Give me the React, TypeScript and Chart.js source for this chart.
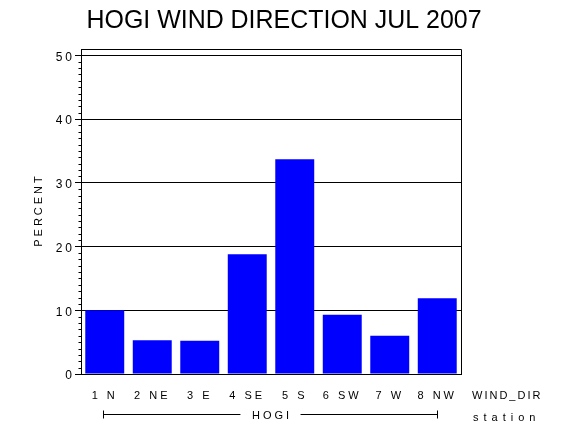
import { useEffect, useRef } from "react";
import { Chart, registerables } from "chart.js";

Chart.register(...registerables);

const directions = ["1 N", "2 NE", "3 E", "4 SE", "5 S", "6 SW", "7 W", "8 NW"];
const percents = [10.0, 5.3, 5.2, 18.8, 33.7, 9.3, 6.0, 11.9];
const yMax = 51;
const yStep = 10;
const titleText = "HOGI WIND DIRECTION JUL 2007";
const yTitle = "PERCENT";
const xTitle = "WIND_DIR";
const groupLabel = "HOGI";
const groupTitle = "station";

const FONT = "'Liberation Sans', Arial, sans-serif";

const extras = {
  id: "extras",
  beforeDraw(chart: any) {
    chart.ctx.letterSpacing = "3px";
  },
  afterDraw(chart: any) {
    const { ctx, chartArea: a, scales } = chart;
    const y = scales.y;
    const x = scales.x;
    ctx.save();
    ctx.strokeStyle = "#000";
    ctx.fillStyle = "#000";
    ctx.lineWidth = 1;

    // plot frame
    const l = Math.round(a.left) + 0.5;
    const t = Math.round(a.top) + 0.5;
    const r = Math.round(a.right) + 0.5;
    const b = Math.round(a.bottom) + 0.5;
    ctx.beginPath();
    ctx.moveTo(l, b);
    ctx.lineTo(l, t);
    ctx.lineTo(r, t);
    ctx.lineTo(r, b);
    ctx.stroke();

    // minor ticks on the y axis
    ctx.beginPath();
    for (let v = 1; v < 50; v++) {
      if (v % yStep === 0) continue;
      const py = Math.round(y.getPixelForValue(v)) + 0.5;
      ctx.moveTo(l - 3, py);
      ctx.lineTo(l, py);
    }
    ctx.stroke();

    // title
    ctx.letterSpacing = "0px";
    ctx.font = `25px ${FONT}`;
    ctx.textAlign = "center";
    ctx.textBaseline = "middle";
    ctx.fillText(titleText, 284, 21, 395);

    ctx.letterSpacing = "3px";
    ctx.font = `11px ${FONT}`;

    // y title
    ctx.save();
    ctx.translate(39, 210);
    ctx.rotate(-Math.PI / 2);
    ctx.textAlign = "center";
    ctx.fillText(yTitle, 0, 0);
    ctx.restore();

    // x title
    ctx.textAlign = "left";
    ctx.letterSpacing = "2px";
    ctx.fillText(xTitle, 472, 396);
    ctx.letterSpacing = "3px";

    // station group line
    const gx0 = Math.round(x.getPixelForValue(0)) - 1.5;
    const gx1 = Math.round(x.getPixelForValue(directions.length - 1)) + 0.5;
    const gy = 414.5;
    const cx = (gx0 + gx1) / 2;
    const tw = ctx.measureText(groupLabel).width;
    ctx.beginPath();
    ctx.moveTo(gx0, gy - 4);
    ctx.lineTo(gx0, gy + 4);
    ctx.moveTo(gx0, gy);
    ctx.lineTo(cx - tw / 2 - 10, gy);
    ctx.moveTo(cx + tw / 2 + 10, gy);
    ctx.lineTo(gx1, gy);
    ctx.moveTo(gx1, gy - 4);
    ctx.lineTo(gx1, gy + 4);
    ctx.stroke();
    ctx.textAlign = "center";
    ctx.fillText(groupLabel, cx + 1.5, 416);

    ctx.textAlign = "left";
    ctx.letterSpacing = "5px";
    ctx.fillText(groupTitle, 473, 418);
    ctx.restore();
  },
};

export default function App() {
  const chartRef = useRef<HTMLCanvasElement>(null);
  const chartInstance = useRef<Chart | null>(null);

  useEffect(() => {
    if (!chartRef.current) return;
    if (chartInstance.current) chartInstance.current.destroy();
    const ctx = chartRef.current.getContext("2d");
    if (!ctx) return;

    chartInstance.current = new Chart(ctx, {
      type: "bar",
      data: {
        labels: directions,
        datasets: [{
          data: percents,
          backgroundColor: "#0000ff",
          borderWidth: 0,
          barPercentage: 0.82,
          categoryPercentage: 1,
        }],
      },
      options: {
        responsive: true,
        maintainAspectRatio: false,
        animation: false,
        devicePixelRatio: 1,
        layout: { padding: { left: 0, right: 109, top: 49, bottom: 0 } },
        plugins: {
          legend: { display: false },
          tooltip: { enabled: false },
          title: { display: false },
        },
        scales: {
          x: {
            grid: { display: false, drawTicks: false },
            border: { display: true, color: "#000", width: 1 },
            ticks: {
              color: "#000",
              font: { family: FONT, size: 11 },
              padding: 15,
              maxRotation: 0,
              autoSkip: false,
            },
            afterFit: (s: any) => { s.height = 56; },
          },
          y: {
            min: 0,
            max: yMax,
            z: 1,
            grid: { color: "#000", lineWidth: 1, tickLength: 6, drawTicks: true },
            border: { display: true, color: "#000", width: 1 },
            ticks: {
              stepSize: yStep,
              includeBounds: false,
              color: "#000",
              font: { family: FONT, size: 12 },
              padding: 0,
              labelOffset: 2,
            },
            afterFit: (s: any) => { s.width = 81; },
          },
        },
      },
      plugins: [extras],
    });

    return () => {
      if (chartInstance.current) {
        chartInstance.current.destroy();
        chartInstance.current = null;
      }
    };
  }, []);

  return (
    <div style={{ position: "fixed", left: 0, top: 0, width: 570, height: 430, background: "#fff" }}>
      <canvas ref={chartRef}></canvas>
    </div>
  );
}
